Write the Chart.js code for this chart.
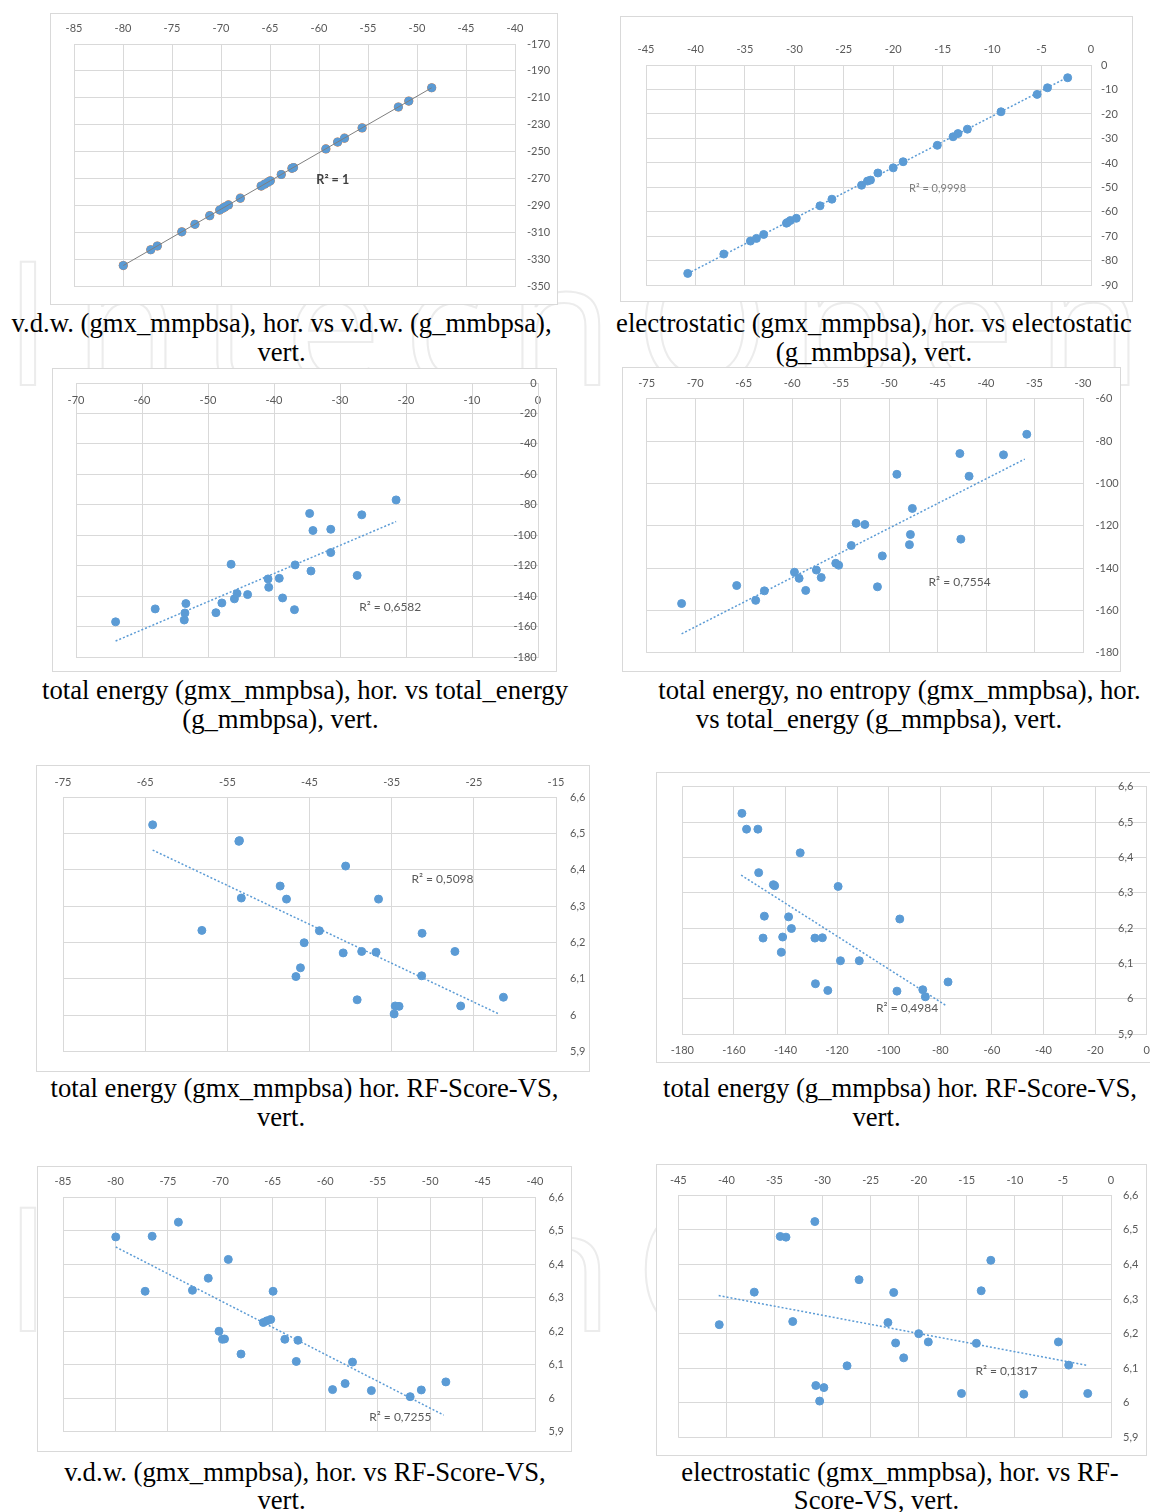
<!DOCTYPE html>
<html>
<head>
<meta charset="utf-8">
<script src="https://cdn.jsdelivr.net/npm/chart.js@4.4.1/dist/chart.umd.min.js"></script>
<style>
  html, body { margin: 0; padding: 0; background: #fff; overflow: hidden; width: 1150px; height: 1512px; }
  .box { position: absolute; border: 1px solid #d9d9d9; box-sizing: border-box; background: #fff; }
  canvas { position: absolute; }
  .cap { position: absolute; width: 700px; text-align: center; white-space: nowrap;
         font-family: "Liberation Serif", "Times New Roman", serif; font-size: 26.7px; line-height: 30px; color: #000; }
  .mark { position: absolute; left: 4px; white-space: nowrap; font-family: "Open Sans", sans-serif; font-size: 172px;
          letter-spacing: 22px; color: transparent; -webkit-text-stroke: 2px #ececec; line-height: 1; }
</style>
</head>
<body>
<div class="mark" style="top:232px">IntechOpen</div>
<div class="mark" style="top:1178px">IntechOpen</div>
<script>
// ---- DATA ----
// v.d.w. gmx_mmpbsa (hor. of charts 1 and 7)
const vdwGmx = [-79.97, -77.17, -76.5, -74.0, -72.66, -71.15, -70.13, -69.8, -69.6, -69.24, -68.03, -65.9, -65.56,
  -65.2, -64.97, -63.85, -62.76, -62.6, -59.3, -58.1, -57.4, -55.6, -51.9, -50.84, -48.5];
const vdwG = [-334.5, -322.8, -320.0, -309.5, -303.9, -297.5, -293.3, -291.9, -291.0, -289.5, -284.5, -275.5, -274.1,
  -272.6, -271.6, -266.9, -262.3, -261.7, -247.9, -242.8, -239.9, -232.3, -216.8, -212.4, -202.5];
const rfVdw = [6.481, 6.319, 6.483, 6.525, 6.322, 6.358, 6.200, 6.176, 6.177, 6.414, 6.132, 6.226, 6.231,
  6.235, 6.319, 6.176, 6.110, 6.173, 6.026, 6.044, 6.108, 6.023, 6.005, 6.025, 6.049];

// electrostatic
const elecGmx = [-40.78, -37.13, -34.44, -33.83, -33.1, -30.8, -30.7, -30.4, -29.8, -27.4, -26.2, -23.2, -22.6,
  -22.3, -21.55, -20.0, -19.0, -15.54, -13.95, -13.45, -12.5, -9.1, -5.45, -4.4, -2.36];
const elecG = [-85.1, -77.2, -71.9, -70.8, -69.2, -64.6, -64.3, -63.5, -62.6, -57.5, -54.8, -49.1, -47.4,
  -47.0, -44.1, -42.0, -39.5, -32.8, -29.3, -28.0, -26.2, -19.1, -12.0, -9.3, -5.2];
const elecGmx8 = [-40.74, -37.1, -34.4, -33.8, -33.1, -30.8, -30.7, -29.86, -30.3, -27.45, -26.2, -23.2, -22.6,
  -22.4, -21.56, -20.0, -19.0, -15.55, -14.0, -13.5, -12.5, -9.07, -5.47, -4.4, -2.42];
const rfElec = [6.226, 6.320, 6.481, 6.479, 6.235, 6.524, 6.050, 6.044, 6.005, 6.107, 6.356, 6.232, 6.319,
  6.173, 6.130, 6.200, 6.176, 6.027, 6.172, 6.324, 6.412, 6.025, 6.176, 6.109, 6.027];

// total energy gmx_mmpbsa vs g_mmpbsa
const totalGmx = [-64.0, -58.0, -53.35, -53.5, -53.6, -48.8, -47.9, -46.5, -46.0, -45.6, -44.0, -40.9, -40.8,
  -39.2, -38.7, -36.9, -36.8, -34.6, -34.1, -34.4, -31.4, -31.4, -27.4, -26.7, -21.5];
const totalG = [-156.9, -148.4, -144.9, -151.1, -155.7, -150.9, -144.5, -119.1, -141.8, -138.3, -139.0, -128.7, -134.2,
  -128.3, -141.2, -148.9, -119.5, -85.7, -96.9, -123.5, -96.1, -111.4, -126.4, -86.6, -76.8];

// total energy, no entropy
const totalNoEnt = [-71.4, -65.72, -63.76, -62.86, -59.76, -59.28, -58.6, -57.5, -57.0, -55.5, -55.2, -53.9, -53.4,
  -52.5, -51.2, -50.7, -49.2, -47.9, -47.8, -47.6, -42.7, -42.6, -41.75, -38.2, -35.8];
const totalGNoEnt = [-156.7, -148.2, -155.2, -150.7, -141.9, -144.8, -150.5, -140.9, -144.4, -137.7, -138.6, -129.3, -118.8,
  -119.4, -148.8, -134.2, -95.7, -128.9, -124.1, -111.8, -85.9, -126.3, -96.6, -86.5, -76.8];

// total energy gmx_mmpbsa vs RF-Score-VS
const totalGmx5 = [-64.09, -53.52, -53.6, -53.3, -58.1, -48.57, -47.8, -40.6, -36.6, -43.8, -45.65, -40.9, -38.65,
  -36.9, -46.1, -46.65, -39.2, -31.3, -31.35, -27.3, -34.57, -34.1, -34.7, -26.6, -21.4];
const rfTotal = [6.5235, 6.480, 6.478, 6.322, 6.233, 6.355, 6.319, 6.410, 6.319, 6.232, 6.199, 6.171, 6.175,
  6.173, 6.130, 6.106, 6.042, 6.225, 6.108, 6.175, 6.025, 6.024, 6.003, 6.025, 6.049];

// total energy g_mmpbsa vs RF-Score-VS
const totalG6 = [-156.9, -155.1, -150.7, -134.3, -150.4, -144.7, -144.2, -119.6, -148.2, -138.8, -137.7, -148.7, -141.1,
  -141.6, -128.6, -125.7, -95.7, -118.7, -111.4, -128.4, -123.6, -96.8, -86.8, -85.8, -77.0];
const rfTotalG = [6.5246, 6.480, 6.480, 6.413, 6.357, 6.323, 6.320, 6.318, 6.234, 6.232, 6.199, 6.172, 6.175,
  6.132, 6.172, 6.173, 6.226, 6.108, 6.108, 6.043, 6.024, 6.022, 6.026, 6.006, 6.048];

// trend line ends
const trendVdwX = [-79.97, -48.5], trendVdwY = [-334.5, -202.5];
const trendElecX = [-40.8, -2.36], trendElecY = [-85.2, -5.0];
const trendTotX = [-64.0, -21.5], trendTotY = [-169.5, -91.0];
const trendNoEntX = [-71.4, -36.0], trendNoEntY = [-171.0, -88.5];
const trendRfTotX = [-64.09, -21.96], trendRfTotY = [6.454, 6.003];
const trendRfGX = [-157.2, -77.5], trendRfGY = [6.350, 5.980];
const trendRfVdwX = [-79.97, -48.7], trendRfVdwY = [6.451, 5.950];
const trendRfElecX = [-40.8, -2.42], trendRfElecY = [6.310, 6.108];

const BLUE = '#5b9bd5';
const fmt = v => String(Math.round(v * 10) / 10).replace('.', ',');

function zip(xs, ys) { return xs.map((x, i) => ({ x: x, y: ys[i] })); }

const r2Plugin = {
  id: 'r2',
  afterDatasetsDraw(chart, args, o) {
    const ctx = chart.ctx;
    ctx.save();
    ctx.font = o.font;
    ctx.fillStyle = o.color;
    ctx.textAlign = 'left';
    ctx.textBaseline = 'middle';
    ctx.fillText(o.text, chart.scales.x.getPixelForValue(o.x), chart.scales.y.getPixelForValue(o.y));
    ctx.restore();
  }
};

function box(l, t, r, b) {
  const d = document.createElement('div');
  d.className = 'box';
  d.style.left = l + 'px'; d.style.top = t + 'px';
  d.style.width = (r - l) + 'px'; d.style.height = (b - t) + 'px';
  document.body.appendChild(d);
}

// axes take no room, the layout padding places the plot; labels are not clipped to the (empty) axis box
function flatX(s) { s.height = 0; s._computeLabelArea = () => undefined; }
function flatY(s) { s.width = 0; s._computeLabelArea = () => undefined; }

function scatter(c) {
  box(c.box[0], c.box[1], c.box[2], c.box[3]);
  const cv = c.canvas || c.box;
  const el = document.createElement('canvas');
  const w = cv[2] - cv[0], h = cv[3] - cv[1];
  el.width = w; el.height = h;
  el.style.left = cv[0] + 'px'; el.style.top = cv[1] + 'px';
  el.style.width = w + 'px'; el.style.height = h + 'px';
  document.body.appendChild(el);

  const tickFont = { family: 'Lato', size: 11 };
  const datasets = [
    { data: zip(c.tx, c.ty), showLine: true, pointRadius: 0, borderColor: c.trendColor || BLUE,
      borderWidth: c.trendWidth || 1.5, borderDash: c.trendDash || [2, 2], order: 0 },
    { data: zip(c.xs, c.ys), backgroundColor: BLUE, borderColor: BLUE, borderWidth: 1, pointRadius: 4, order: 1 }
  ];
  if (c.under) {
    datasets.push({ data: zip(c.xs, c.ys), backgroundColor: c.under, borderWidth: 0, pointRadius: 4.6, order: 2 });
  }

  new Chart(el, {
    type: 'scatter',
    data: { datasets: datasets },
    options: {
      responsive: false,
      animation: false,
      devicePixelRatio: 1,
      layout: { padding: {
        left: c.plot[0] - cv[0], top: c.plot[1] - cv[1],
        right: cv[2] - c.plot[2], bottom: cv[3] - c.plot[3] } },
      plugins: {
        legend: { display: false },
        tooltip: { enabled: false },
        r2: { text: c.r2[0], x: c.r2[1], y: c.r2[2], font: c.r2Font || '12px Lato', color: c.r2Color || '#595959' }
      },
      scales: {
        x: {
          type: 'linear', position: c.xPos || 'top', min: c.xr[0], max: c.xr[1],
          ticks: { stepSize: c.xr[2], autoSkip: false, maxRotation: 0, padding: c.xPad,
                   color: '#595959', font: tickFont, callback: fmt },
          grid: { color: '#d9d9d9', drawTicks: false },
          border: { color: '#d9d9d9' },
          afterFit: flatX
        },
        y: {
          type: 'linear', position: 'right', min: c.yr[0], max: c.yr[1],
          ticks: { stepSize: c.yr[2], autoSkip: false, mirror: !!c.yMirror, padding: c.yPad,
                   color: '#595959', font: tickFont, callback: fmt },
          grid: { color: '#d9d9d9', drawTicks: false },
          border: { color: '#d9d9d9' },
          afterFit: flatY
        }
      }
    },
    plugins: [r2Plugin]
  });
}

// ---- CHARTS ----
scatter({ box: [50, 13, 558, 305], plot: [74, 44, 515, 290], xr: [-85, -40, 5], yr: [-350, -170, 20],
  xs: vdwGmx, ys: vdwG, tx: trendVdwX, ty: trendVdwY, xPad: 9.4, yPad: 12, under: '#ed7d31',
  trendColor: '#7f7f7f', trendWidth: 1, trendDash: [],
  r2: ['R² = 1', -60.27, -271.2], r2Font: 'bold 12.5px Lato', r2Color: '#404040' });

scatter({ box: [620, 16, 1133, 302], plot: [646, 65, 1091, 288], xr: [-45, 0, 5], yr: [-90, 0, 10],
  xs: elecGmx, ys: elecG, tx: trendElecX, ty: trendElecY, xPad: 9.4, yPad: 10,
  r2: ['R² = 0,9998', -18.4, -50.3], r2Font: '11px Lato', r2Color: '#7f7f7f' });

scatter({ box: [52, 368, 557, 672], plot: [76, 383, 538, 657], xr: [-70, 0, 10], yr: [-180, 0, 20],
  xs: totalGmx, ys: totalG, tx: trendTotX, ty: trendTotY, xPad: -23.6, yPad: -1.3, yMirror: true,
  r2: ['R² = 0,6582', -27.1, -147.0] });

scatter({ box: [622, 367, 1121, 672], plot: [646.7, 398.7, 1083, 657], xr: [-75, -30, 5], yr: [-180, -60, 20],
  xs: totalNoEnt, ys: totalGNoEnt, tx: trendNoEntX, ty: trendNoEntY, xPad: 9.1, yPad: 12.5,
  r2: ['R² = 0,7554', -45.93, -146.5] });

scatter({ box: [36, 765, 590, 1072], plot: [63, 797, 556, 1057], xr: [-75, -15, 10], yr: [5.9, 6.6, 0.1],
  xs: totalGmx5, ys: rfTotal, tx: trendRfTotX, ty: trendRfTotY, xPad: 8.4, yPad: 14,
  r2: ['R² = 0,5098', -32.6, 6.373] });

scatter({ box: [656, 772, 1153, 1063], canvas: [656, 772, 1160, 1063], plot: [682.3, 786.7, 1146.7, 1034.3],
  xr: [-180, 0, 20], yr: [5.9, 6.6, 0.1], xPos: 'bottom',
  xs: totalG6, ys: rfTotalG, tx: trendRfGX, ty: trendRfGY, xPad: 9.1, yPad: -13.4, yMirror: true,
  r2: ['R² = 0,4984', -104.9, 5.975] });

scatter({ box: [37, 1166, 572, 1452], plot: [63, 1197, 535, 1438], xr: [-85, -40, 5], yr: [5.9, 6.6, 0.1],
  xs: vdwGmx, ys: rfVdw, tx: trendRfVdwX, ty: trendRfVdwY, xPad: 9.4, yPad: 13.5,
  r2: ['R² = 0,7255', -55.8, 5.945] });

scatter({ box: [656, 1164, 1147, 1456], plot: [678.3, 1195.3, 1111, 1441], xr: [-45, 0, 5], yr: [5.9, 6.6, 0.1],
  xs: elecGmx8, ys: rfElec, tx: trendRfElecX, ty: trendRfElecY, xPad: 8.7, yPad: 12,
  r2: ['R² = 0,1317', -14.1, 6.093] });

// ---- CAPTIONS ----
const captions = [
  ['v.d.w. (gmx_mmpbsa), hor. vs v.d.w. (g_mmbpsa),', 281.5, 332], ['vert.', 281.5, 361],
  ['electrostatic (gmx_mmpbsa), hor. vs electostatic', 874, 332], ['(g_mmbpsa), vert.', 874, 361],
  ['total energy (gmx_mmpbsa), hor. vs total_energy', 305, 699], ['(g_mmbpsa), vert.', 280.5, 728],
  ['total energy, no entropy (gmx_mmpbsa), hor.', 899.5, 699], ['vs total_energy (g_mmpbsa), vert.', 879, 728],
  ['total energy (gmx_mmpbsa) hor. RF-Score-VS,', 304.5, 1097], ['vert.', 281, 1126],
  ['total energy (g_mmpbsa) hor. RF-Score-VS,', 900, 1097], ['vert.', 876.5, 1126],
  ['v.d.w. (gmx_mmpbsa), hor. vs RF-Score-VS,', 305, 1481], ['vert.', 281.5, 1509],
  ['electrostatic (gmx_mmpbsa), hor. vs RF-', 900, 1481], ['Score-VS, vert.', 876.5, 1509]
];
captions.forEach(c => {
  const d = document.createElement('div');
  d.className = 'cap';
  d.textContent = c[0];
  d.style.left = (c[1] - 350) + 'px';
  d.style.top = (c[2] - 24) + 'px';
  document.body.appendChild(d);
});
</script>
</body>
</html>
